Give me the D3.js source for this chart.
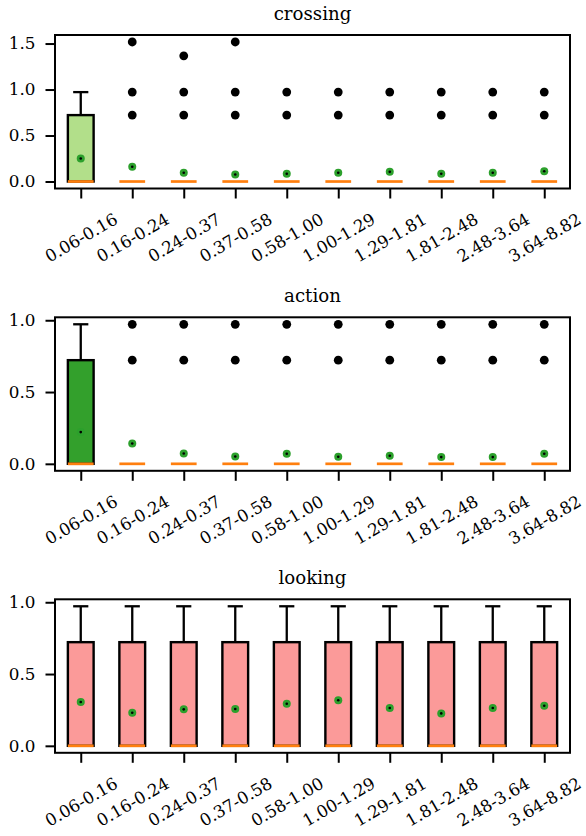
<!DOCTYPE html>
<html>
<head>
<meta charset="utf-8">
<title>Box plots by bin</title>
<script src="https://d3js.org/d3.v7.min.js"></script>
<style>
  body { margin: 0; background: #fff; }
  svg text { font-family: "DejaVu Serif", serif; fill: #000; }
  .axis text { font-size: 16.8px; }
  .title { font-size: 18.2px; text-anchor: middle; }
</style>
</head>
<body>
<script>
// bins shared by all three panels
var bins = ["0.06-0.16", "0.16-0.24", "0.24-0.37", "0.37-0.58", "0.58-1.00",
            "1.00-1.29", "1.29-1.81", "1.81-2.48", "2.48-3.64", "3.64-8.82"];

// crossing
var crossingQ1     = [0, 0, 0, 0, 0, 0, 0, 0, 0, 0];
var crossingMedian = [0, 0, 0, 0, 0, 0, 0, 0, 0, 0];
var crossingQ3     = [0.722, 0, 0, 0, 0, 0, 0, 0, 0, 0];
var crossingWhiskerHigh = [0.972, 0, 0, 0, 0, 0, 0, 0, 0, 0];
var crossingMean   = [0.250, 0.160, 0.095, 0.076, 0.084, 0.095, 0.105, 0.084, 0.095, 0.112];
var crossingFliers = [[], [1.517, 0.972, 0.722], [1.367, 0.972, 0.722], [1.517, 0.972, 0.722],
                      [0.972, 0.722], [0.972, 0.722], [0.972, 0.722], [0.972, 0.722],
                      [0.972, 0.722], [0.972, 0.722]];
var crossingTicks  = [0, 0.5, 1.0, 1.5];

// action
var actionQ1     = [0, 0, 0, 0, 0, 0, 0, 0, 0, 0];
var actionMedian = [0, 0, 0, 0, 0, 0, 0, 0, 0, 0];
var actionQ3     = [0.722, 0, 0, 0, 0, 0, 0, 0, 0, 0];
var actionWhiskerHigh = [0.972, 0, 0, 0, 0, 0, 0, 0, 0, 0];
var actionMean   = [0.221, 0.142, 0.072, 0.051, 0.070, 0.049, 0.056, 0.047, 0.047, 0.070];
var actionFliers = [[], [0.972, 0.722], [0.972, 0.722], [0.972, 0.722], [0.972, 0.722],
                    [0.972, 0.722], [0.972, 0.722], [0.972, 0.722], [0.972, 0.722], [0.972, 0.722]];
var actionTicks  = [0, 0.5, 1.0];

// looking
var lookingQ1     = [0, 0, 0, 0, 0, 0, 0, 0, 0, 0];
var lookingMedian = [0, 0, 0, 0, 0, 0, 0, 0, 0, 0];
var lookingQ3     = [0.722, 0.722, 0.722, 0.722, 0.722, 0.722, 0.722, 0.722, 0.722, 0.722];
var lookingWhiskerHigh = [0.972, 0.972, 0.972, 0.972, 0.972, 0.972, 0.972, 0.972, 0.972, 0.972];
var lookingMean   = [0.305, 0.230, 0.254, 0.256, 0.293, 0.317, 0.263, 0.226, 0.263, 0.279];
var lookingFliers = [[], [], [], [], [], [], [], [], [], []];
var lookingTicks  = [0, 0.5, 1.0];

var panels = [
  { title: "crossing", fill: "#b2df8a", top: 35,    q1: crossingQ1, med: crossingMedian, q3: crossingQ3,
    hi: crossingWhiskerHigh, mean: crossingMean, fliers: crossingFliers, ticks: crossingTicks },
  { title: "action",   fill: "#33a02c", top: 317.3, q1: actionQ1, med: actionMedian, q3: actionQ3,
    hi: actionWhiskerHigh, mean: actionMean, fliers: actionFliers, ticks: actionTicks },
  { title: "looking",  fill: "#fb9a99", top: 599.3, q1: lookingQ1, med: lookingMedian, q3: lookingQ3,
    hi: lookingWhiskerHigh, mean: lookingMean, fliers: lookingFliers, ticks: lookingTicks }
];

var width = 586, height = 836;
var left = 55, right = 570, panelH = 153.5;

var svg = d3.select("body").append("svg")
  .attr("width", width)
  .attr("height", height);

var x = d3.scalePoint().domain(bins).range([left, right]).padding(0.5);
var boxW = x.step() * 0.5;
var capW = boxW * 0.5 + 2.3;

panels.forEach(function(p) {
  var top = p.top, bottom = p.top + panelH;

  // matplotlib style autoscale: data extent plus 5% margin
  var lo = d3.min(p.q1), hi = d3.max(p.hi.concat(d3.merge(p.fliers)));
  var pad = (hi - lo) * 0.05;
  var y = d3.scaleLinear().domain([lo - pad, hi + pad]).range([bottom, top]);

  var g = svg.append("g");

  var rows = bins.map(function(b, i) {
    return { bin: b, q1: p.q1[i], med: p.med[i], q3: p.q3[i], hi: p.hi[i],
             mean: p.mean[i], fliers: p.fliers[i] };
  });

  var box = g.selectAll(".box").data(rows).enter().append("g")
    .attr("class", "box")
    .attr("transform", function(d) { return "translate(" + x(d.bin) + ",0)"; });

  // whisker + cap
  box.filter(function(d) { return d.hi > d.q3; }).append("line")
    .attr("x1", 0).attr("x2", 0)
    .attr("y1", function(d) { return y(d.q3); })
    .attr("y2", function(d) { return y(d.hi); })
    .attr("stroke", "#000").attr("stroke-width", 2.3);
  box.filter(function(d) { return d.hi > d.q3; }).append("line")
    .attr("x1", -capW / 2).attr("x2", capW / 2)
    .attr("y1", function(d) { return y(d.hi); })
    .attr("y2", function(d) { return y(d.hi); })
    .attr("stroke", "#000").attr("stroke-width", 2.3);

  // box
  box.filter(function(d) { return d.q3 > d.q1; }).append("rect")
    .attr("x", -boxW / 2)
    .attr("width", boxW)
    .attr("y", function(d) { return y(d.q3); })
    .attr("height", function(d) { return y(d.q1) - y(d.q3); })
    .attr("fill", p.fill)
    .attr("stroke", "#000").attr("stroke-width", 2.4);

  // median
  box.append("line")
    .attr("x1", -boxW / 2).attr("x2", boxW / 2)
    .attr("y1", function(d) { return y(d.med); })
    .attr("y2", function(d) { return y(d.med); })
    .attr("stroke", "#ff7f0e").attr("stroke-width", 2.7);

  // outliers
  box.selectAll(".flier").data(function(d) { return d.fliers; }).enter().append("circle")
    .attr("class", "flier")
    .attr("cx", 0)
    .attr("cy", function(v) { return y(v); })
    .attr("r", 4.4)
    .attr("fill", "#000");

  // means
  box.append("circle")
    .attr("cx", 0).attr("cy", function(d) { return y(d.mean); })
    .attr("r", 4).attr("fill", "#2ca02c");
  box.append("circle")
    .attr("cx", 0).attr("cy", function(d) { return y(d.mean); })
    .attr("r", 1.3).attr("fill", "#000");

  // frame
  g.append("rect")
    .attr("x", left).attr("y", top)
    .attr("width", right - left).attr("height", panelH)
    .attr("fill", "none").attr("stroke", "#000").attr("stroke-width", 2);

  // y axis
  var ya = g.append("g").attr("class", "axis")
    .attr("transform", "translate(" + left + ",0)")
    .call(d3.axisLeft(y).tickValues(p.ticks).tickFormat(d3.format(".1f"))
      .tickSize(9.5).tickPadding(10));
  ya.select(".domain").remove();
  ya.selectAll("line").attr("stroke-width", 2);

  // x axis
  var xa = g.append("g").attr("class", "axis")
    .attr("transform", "translate(0," + bottom + ")")
    .call(d3.axisBottom(x).tickSize(10));
  xa.select(".domain").remove();
  xa.selectAll("line").attr("stroke-width", 2);
  xa.selectAll("text")
    .attr("y", 0).attr("dy", null)
    .attr("dominant-baseline", "central")
    .attr("text-anchor", "middle")
    .attr("transform", "translate(0,49) rotate(-30)");

  // title
  g.append("text").attr("class", "title")
    .attr("x", (left + right) / 2)
    .attr("y", top - 15.5)
    .text(p.title);
});
</script>
</body>
</html>
